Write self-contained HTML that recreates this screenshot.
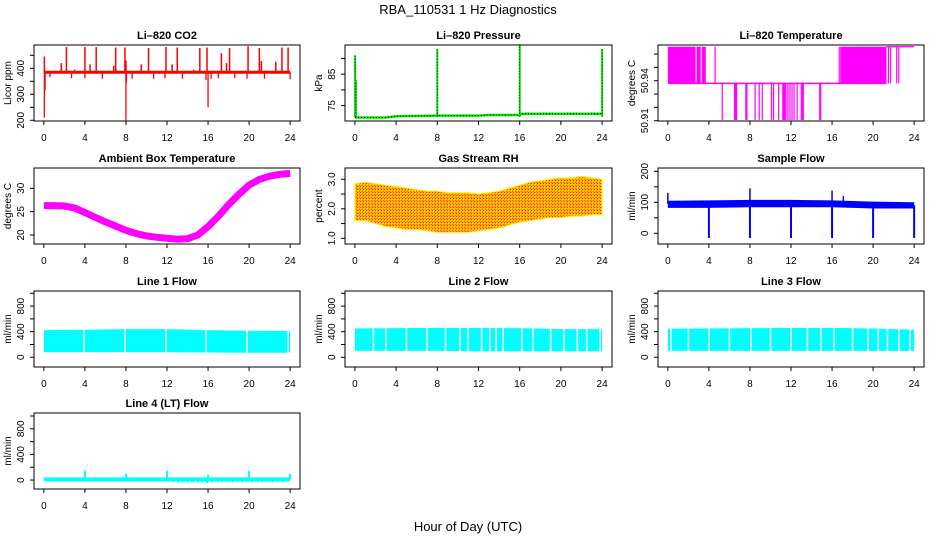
<!DOCTYPE html>
<html><head><meta charset="utf-8">
<style>
html,body{margin:0;padding:0;background:#fff;}
svg{display:block;font-family:"Liberation Sans",sans-serif;}
</style></head>
<body>
<svg id="chart" width="936" height="540" viewBox="0 0 936 540" xmlns="http://www.w3.org/2000/svg">
<defs>
<pattern id="rhpat" width="3" height="3" patternUnits="userSpaceOnUse">
<rect width="3" height="3" fill="#ffb000"/><rect width="1" height="1" fill="#ff2000"/><rect x="2" y="2" width="1" height="1" fill="#ff6000"/><rect x="1" y="1" width="1" height="1" fill="#ffee00"/>
</pattern>
</defs>
<text x="468" y="14" text-anchor="middle" font-size="13">RBA_110531  1 Hz Diagnostics</text>
<text x="468" y="531" text-anchor="middle" font-size="13">Hour of Day (UTC)</text>
</svg>
<script>
// ---- data ----
const xTicks = [0,4,8,12,16,20,24];
const co2Base = 385;
const co2UpTimes = [0.05,2.2,4,5.1,7,7.9,10.2,11.9,13,15.2,15.9,17.3,18.1,19.9,21,23.2,23.8,1.7,4.5,6.8,9.5,12.5,17.8,21.2,22.6,8.0,3.0,14.6];
const co2UpVals  = [445,482,482,482,480,480,478,482,480,478,480,458,478,485,478,480,480,420,415,410,415,415,420,428,425,430,395,395];
const co2DnTimes = [0.05,0.12,8.0,8.05,16.0,0.6,2.7,4.0,5.7,8.6,10.7,11.8,13.5,15.8,16.3,17.0,18.6,19.8,21.5,24.0];
const co2DnVals  = [210,315,200,345,250,365,362,362,360,360,360,362,360,355,360,362,362,360,360,358];

const presBaseT = [0,3,4,8,12,13,16,16.05,20,24];
const presBaseV = [71.2,71.2,71.6,71.8,71.8,72.0,72.0,72.4,72.4,72.4];
const presSpikeT = [0.02,0.1,8.0,16.0,24.0];
const presSpikeV = [91,83,93,94.5,93];

const ltHigh = 50.9655, ltMid = 50.938, ltLow = 50.9105;
const ltHighBlocks = [[0,2.7],[2.8,3.2],[3.3,3.7],[16.9,21.3]];
const ltHighLines = [4.6,16.7,16.85,21.5,21.7,22.3,22.5];
const ltLowLines = [5.3,6.5,6.6,6.7,7.6,7.7,8.5,8.9,9.2,10.1,10.3,10.8,11.2,11.3,11.4,11.5,11.7,11.9,12.1,12.3,12.6,13.0,13.1,13.2,14.8,14.9];

const ambT = [0,1,2,3,4,5,6,7,8,9,10,11,12,13,14,15,16,17,18,19,20,21,22,23,24];
const ambV = [26.3,26.3,26.2,25.8,24.8,23.8,22.8,21.9,21.0,20.3,19.8,19.5,19.3,19.1,19.2,20.0,21.8,24.0,26.5,28.7,30.7,31.9,32.6,33.0,33.2];

const rhT = [0,1,2,3,4,5,6,7,8,9,10,11,12,13,14,15,16,17,18,19,20,21,22,23,24];
const rhMax = [2.85,2.9,2.85,2.8,2.75,2.7,2.65,2.6,2.6,2.55,2.55,2.55,2.5,2.55,2.6,2.7,2.8,2.9,2.95,3.0,3.05,3.05,3.1,3.05,3.0];
const rhMin = [1.6,1.6,1.5,1.4,1.35,1.3,1.3,1.25,1.2,1.2,1.2,1.2,1.25,1.3,1.35,1.45,1.55,1.6,1.65,1.7,1.7,1.75,1.75,1.8,1.8];

const sfT = [0,4,8,12,16,20,24];
const sfMax = [105,106,108,108,106,102,100];
const sfMin = [82,82,84,84,84,80,80];
const sfDropT = [4,8,12,16,20,24];
const sfSpikeT = [0,8,16,17.1];
const sfSpikeV = [130,145,138,120];

const l1T = [0,4,8,12,16,20,24];
const l1Max = [425,430,440,440,425,415,410];
const l1Min = [80,80,80,80,75,70,70];
const l1Gaps = [3.9,7.9,11.9,15.8,19.8,23.8];
const l2T = [0,4,8,12,16,20,24];
const l2Max = [450,455,460,460,455,440,440];
const l2Min = [100,100,100,95,95,95,95];
const l2Gaps = [1.8,3.0,5.0,7.0,8.8,10.2,11.0,12.3,13.1,13.7,14.4,16.2,17.3,19.0,20.3,21.6,22.5,23.8];
const l3T = [0,4,8,12,16,20,24];
const l3Max = [445,450,455,460,460,450,430];
const l3Min = [100,100,100,100,100,100,100];
const l3Gaps = [0.3,2.0,4.0,6.0,8.1,10.0,12.0,13.6,14.9,16.2,18.0,19.5,20.5,21.4,22.5,23.6];
const l4SpikeT = [4,8,12,16,20,24];
const l4SpikeV = [140,100,140,80,140,100];
const l4DipT = [12.6,13.1,13.6,14.0,14.5,15.0,15.4,15.9,16.4,17.0,17.4,17.9,18.4,18.9,19.3,19.8,20.3,20.8,21.3,21.8,22.3,22.8,23.3];
const l4DipV = [-30,-40,-35,-40,-35,-40,-40,-45,-40,-30,-35,-30,-35,-30,-35,-30,-35,-30,-35,-30,-35,-30,-35];

// ---- helpers ----
const NS = "http://www.w3.org/2000/svg";
const svg = document.getElementById('chart');
function mk(tag, attrs, parent){const e=document.createElementNS(NS,tag);for(const k in attrs)e.setAttribute(k,attrs[k]);(parent||svg).appendChild(e);return e;}

function panel(cfg){
  const g = mk('g',{});
  
  
  const L=cfg.x0, R=cfg.x1, T=cfg.y0, B=cfg.y1;
  const W=R-L;
  const xs = h => L + (h+0.96)/25.92*W;
  const ys = v => B - (v-cfg.ylim[0])/(cfg.ylim[1]-cfg.ylim[0])*(B-T);
  const plot = mk('g',{},g);
  
  
  cfg.draw(plot, xs, ys);
  const box = mk('rect',{x:L,y:T,width:W,height:B-T,fill:'none',stroke:'#000','stroke-width':1},g);
  
  
  const t = mk('text',{x:(L+R)/2,y:T-6,'text-anchor':'middle','font-size':11,'font-weight':'bold'},g);
  t.textContent = cfg.title;
  
  
  const xa = mk('g',{},g);
  
  
  mk('line',{x1:xs(0),x2:xs(24),y1:B,y2:B,stroke:'#000'},xa);
  xTicks.forEach(v=>{
    mk('line',{x1:xs(v),x2:xs(v),y1:B,y2:B+4,stroke:'#000'},xa);
    const tx=mk('text',{x:xs(v),y:B+20,'text-anchor':'middle','font-size':10},xa);
    tx.textContent=v;
  });
  const ya = mk('g',{},g);
  
  
  const yt = cfg.yticks;
  mk('line',{x1:L,x2:L,y1:ys(yt[0]),y2:ys(yt[yt.length-1]),stroke:'#000'},ya);
  yt.forEach((v,i)=>{
    mk('line',{x1:L-4,x2:L,y1:ys(v),y2:ys(v),stroke:'#000'},ya);
  });
  cfg.ylabels.forEach(([v,s])=>{
    const tx=mk('text',{x:L-10,y:ys(v),'text-anchor':'middle','font-size':10,transform:`rotate(-90 ${L-10} ${ys(v)})`},ya);
    tx.textContent=s;
  });
  const yl=mk('text',{x:L-23,y:(T+B)/2,'text-anchor':'middle','font-size':10,transform:`rotate(-90 ${L-23} ${(T+B)/2})`},ya);
  yl.textContent=cfg.ytitle;
}
function vline(p,x,y1,y2,col,w){return mk('line',{x1:x,x2:x,y1:y1,y2:y2,stroke:col,'stroke-width':w||1},p);}
function band(p,xs,ys,T,mx,mn,fill,stroke){
  let d='M';
  T.forEach((t,i)=>{d+=xs(t)+','+ys(mx[i])+' L';});
  for(let i=T.length-1;i>=0;i--){d+=xs(T[i])+','+ys(mn[i])+(i?' L':' Z');}
  mk('path',{d:d,fill:fill,stroke:stroke||'none','stroke-width':1},p);
}
function flowBand(p,xs,ys,T,mx,mn,gaps){
  band(p,xs,ys,T,mx,mn,'#00ffff');
  gaps.forEach(g=>vline(p,xs(g),ys(1000),ys(0),'#fff',1.5));
}

const C=[[34,300],[345,612],[658,924]];
const Rw=[[45,121],[168,244],[291,367],[413,489]];
const lineTicks=[0,200,400,600,800,1000];
const lineLabels=[[0,'0'],[400,'400'],[800,'800']];

panel({name:'co2-panel',title:'Li\u2013820 CO2',x0:C[0][0],x1:C[0][1],y0:Rw[0][0],y1:Rw[0][1],ylim:[197.3,489.6],
 yticks:[200,250,300,350,400,450],ylabels:[[200,'200'],[300,'300'],[400,'400']],ytitle:'Licor ppm',
 draw:(p,xs,ys)=>{
  co2UpTimes.forEach((t,i)=>vline(p,xs(t),ys(co2Base),ys(co2UpVals[i]),'#ff0000',1.5));
  co2DnTimes.forEach((t,i)=>vline(p,xs(t),ys(co2Base),ys(co2DnVals[i]),'#ff0000',1.3));
  mk('line',{x1:xs(0),x2:xs(24),y1:ys(co2Base),y2:ys(co2Base),stroke:'#ff0000','stroke-width':3},p);
 }});

panel({name:'pressure-panel',title:'Li\u2013820 Pressure',x0:C[1][0],x1:C[1][1],y0:Rw[0][0],y1:Rw[0][1],ylim:[70.1,94.3],
 yticks:[75,80,85,90],ylabels:[[75,'75'],[85,'85']],ytitle:'kPa',
 draw:(p,xs,ys)=>{
  const pts=presBaseT.map((t,i)=>xs(t)+','+ys(presBaseV[i])).join(' ');
  mk('polyline',{points:pts,fill:'none',stroke:'#00ee00','stroke-width':2.5},p);
  mk('polyline',{points:pts,fill:'none',stroke:'#000','stroke-width':1,'stroke-dasharray':'1 2'},p);
  presSpikeT.forEach((t,i)=>{
   vline(p,xs(t),ys(71.5),ys(presSpikeV[i]),'#00ee00',2);
   mk('line',{x1:xs(t),x2:xs(t),y1:ys(71.5),y2:ys(presSpikeV[i]),stroke:'#000','stroke-width':1,'stroke-dasharray':'1 2'},p);
  });
 }});

panel({name:'li820-temperature-panel',title:'Li\u2013820 Temperature',x0:C[2][0],x1:C[2][1],y0:Rw[0][0],y1:Rw[0][1],ylim:[50.9098,50.9668],
 yticks:[50.91,50.92,50.93,50.94,50.95,50.96],ylabels:[[50.91,'50.91'],[50.94,'50.94']],ytitle:'degrees C',
 draw:(p,xs,ys)=>{
  ltHighBlocks.forEach(b=>mk('rect',{x:xs(b[0]),y:ys(ltHigh),width:xs(b[1])-xs(b[0]),height:ys(ltMid)-ys(ltHigh),fill:'#ff00ff'},p));
  ltHighLines.forEach(t=>vline(p,xs(t),ys(ltMid),ys(ltHigh),'#ff00ff',1.2));
  ltLowLines.forEach(t=>vline(p,xs(t),ys(ltMid),ys(ltLow),'#ff00ff',1.2));
  mk('line',{x1:xs(0),x2:xs(21.3),y1:ys(ltMid),y2:ys(ltMid),stroke:'#ff00ff','stroke-width':1.5},p);
  mk('line',{x1:xs(21.3),x2:xs(24),y1:ys(ltHigh),y2:ys(ltHigh),stroke:'#ff00ff','stroke-width':1.2},p);
 }});

panel({name:'ambient-temperature-panel',title:'Ambient Box Temperature',x0:C[0][0],x1:C[0][1],y0:Rw[1][0],y1:Rw[1][1],ylim:[18.07,34.35],
 yticks:[20,25,30],ylabels:[[20,'20'],[25,'25'],[30,'30']],ytitle:'degrees C',
 draw:(p,xs,ys)=>{
  mk('polyline',{points:ambT.map((t,i)=>xs(t)+','+ys(ambV[i])).join(' '),fill:'none',stroke:'#ff00ff','stroke-width':7,'stroke-linejoin':'round'},p);
 }});

panel({name:'gas-rh-panel',title:'Gas Stream RH',x0:C[1][0],x1:C[1][1],y0:Rw[1][0],y1:Rw[1][1],ylim:[0.807,3.383],
 yticks:[1.0,1.5,2.0,2.5,3.0],ylabels:[[1,'1.0'],[2,'2.0'],[3,'3.0']],ytitle:'percent',
 draw:(p,xs,ys)=>{ band(p,xs,ys,rhT,rhMax,rhMin,'url(#rhpat)','#ffee00'); }});

panel({name:'sample-flow-panel',title:'Sample Flow',x0:C[2][0],x1:C[2][1],y0:Rw[1][0],y1:Rw[1][1],ylim:[-34.5,210.6],
 yticks:[0,50,100,150,200],ylabels:[[0,'0'],[100,'100'],[200,'200']],ytitle:'ml/min',
 draw:(p,xs,ys)=>{
  band(p,xs,ys,sfT,sfMax,sfMin,'#0000ff');
  sfDropT.forEach(t=>vline(p,xs(t),ys(90),ys(-15),'#0000ff',2));
  sfSpikeT.forEach((t,i)=>vline(p,xs(t),ys(95),ys(sfSpikeV[i]),'#0000ff',1.5));
 }});

panel({name:'line1-flow-panel',title:'Line 1 Flow',x0:C[0][0],x1:C[0][1],y0:Rw[2][0],y1:Rw[2][1],ylim:[-152,1036],
 yticks:lineTicks,ylabels:lineLabels,ytitle:'ml/min',
 draw:(p,xs,ys)=>flowBand(p,xs,ys,l1T,l1Max,l1Min,l1Gaps)});
panel({name:'line2-flow-panel',title:'Line 2 Flow',x0:C[1][0],x1:C[1][1],y0:Rw[2][0],y1:Rw[2][1],ylim:[-152,1036],
 yticks:lineTicks,ylabels:lineLabels,ytitle:'ml/min',
 draw:(p,xs,ys)=>flowBand(p,xs,ys,l2T,l2Max,l2Min,l2Gaps)});
panel({name:'line3-flow-panel',title:'Line 3 Flow',x0:C[2][0],x1:C[2][1],y0:Rw[2][0],y1:Rw[2][1],ylim:[-152,1036],
 yticks:lineTicks,ylabels:lineLabels,ytitle:'ml/min',
 draw:(p,xs,ys)=>flowBand(p,xs,ys,l3T,l3Max,l3Min,l3Gaps)});
panel({name:'line4-flow-panel',title:'Line 4 (LT) Flow',x0:C[0][0],x1:C[0][1],y0:Rw[3][0],y1:Rw[3][1],ylim:[-140,1047],
 yticks:lineTicks,ylabels:lineLabels,ytitle:'ml/min',
 draw:(p,xs,ys)=>{
  l4DipT.forEach((t,i)=>vline(p,xs(t),ys(10),ys(l4DipV[i]),'#00ffff',2));
  l4SpikeT.forEach((t,i)=>vline(p,xs(t),ys(10),ys(l4SpikeV[i]),'#00ffff',2));
  mk('line',{x1:xs(0),x2:xs(24),y1:ys(10),y2:ys(10),stroke:'#00ffff','stroke-width':4},p);
 }});
</script>
</body></html>
